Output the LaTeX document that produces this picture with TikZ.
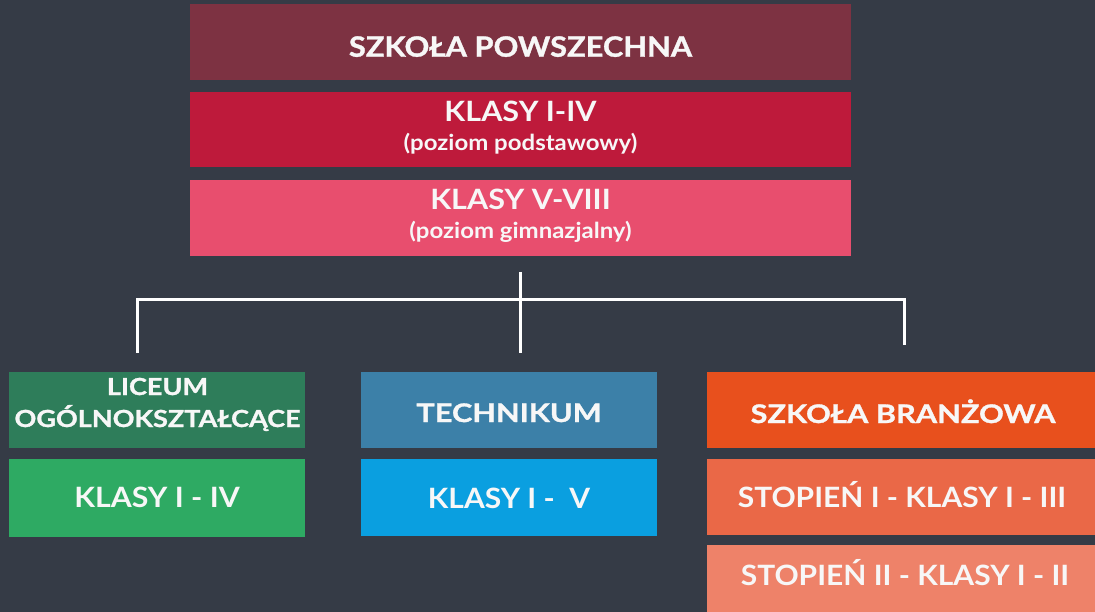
\documentclass[tikz,border=0pt]{standalone}
\usepackage{fontspec}
\setmainfont{Lato}
\newcommand\ftn[2]{\fontsize{#1}{#1}\selectfont\bfseries\addfontfeatures{FakeStretch=#2}}
\newcommand\fth[2]{\fontsize{#1}{#1}\selectfont\bfseries\addfontfeatures{FakeStretch=#2,FakeBold=1.2}}
\definecolor{bg}{HTML}{353B46}
\definecolor{cA}{HTML}{7D3242}
\definecolor{cB}{HTML}{BE1A3B}
\definecolor{cC}{HTML}{E84E6E}
\definecolor{gA}{HTML}{2E7D5A}
\definecolor{gB}{HTML}{2EAA63}
\definecolor{tA}{HTML}{3C80A8}
\definecolor{tB}{HTML}{0A9FE0}
\definecolor{oA}{HTML}{E8501D}
\definecolor{oB}{HTML}{EA6847}
\definecolor{oC}{HTML}{EE8269}
\definecolor{txt}{HTML}{F7F7F7}
\begin{document}
\begin{tikzpicture}[x=1pt,y=-1pt,
  box/.style={draw=none, inner sep=0pt, outer sep=0pt},
  lbl/.style={anchor=base, inner sep=0pt, text=txt},
  conn/.style={draw=white, line width=3pt}]
\fill[bg] (0,0) rectangle (1095,612);
\useasboundingbox (0,0) rectangle (1095,612);
% top column
\node[box, fill=cA, minimum width=661pt, minimum height=76pt] (sp) at (520.5,42) {};
\node[box, fill=cB, minimum width=661pt, minimum height=75pt] (k14) at (520.5,129.5) {};
\node[box, fill=cC, minimum width=661pt, minimum height=76pt] (k58) at (520.5,218) {};
\node[lbl, font=\fth{28}{1.1}] (spt) at (520.5,56.7) {SZKOŁA POWSZECHNA};
\node[lbl, font=\ftn{28}{1.09}] (k14t) at (520.5,122) {KLASY I-IV};
\node[lbl, font=\ftn{22}{1.09}] (k14s) at (520.5,151) {(poziom podstawowy)};
\node[lbl, font=\ftn{28}{1.09}] (k58t) at (520.5,210) {KLASY V-VIII};
\node[lbl, font=\ftn{22}{1.09}] (k58s) at (520.5,239) {(poziom gimnazjalny)};
% bottom left
\node[box, fill=gA, minimum width=296pt, minimum height=76pt] (lo) at (157,409.5) {};
\node[box, fill=gB, minimum width=296pt, minimum height=78pt] (lok) at (157,498) {};
\node[lbl, font=\fth{23.5}{1.15}] (lot1) at (157.5,395) {LICEUM};
\node[lbl, font=\fth{23.5}{1.15}] (lot2) at (157.5,427) {OGÓLNOKSZTAŁCĄCE};
\node[lbl, font=\ftn{28}{1.08}] (lokt) at (157,507) {KLASY I - IV};
% bottom middle
\node[box, fill=tA, minimum width=296pt, minimum height=76pt] (te) at (509,409.5) {};
\node[box, fill=tB, minimum width=296pt, minimum height=77pt] (tek) at (509,497.5) {};
\node[lbl, font=\fth{25.6}{1.2}] (tet) at (509,422) {TECHNIKUM};
\node[lbl, font=\ftn{28}{1.07}] (tekt) at (509,508) {KLASY I -\ \ V};
% bottom right
\node[box, fill=oA, minimum width=389pt, minimum height=76pt] (sb) at (901.5,409.5) {};
\node[box, fill=oB, minimum width=389pt, minimum height=76pt] (s1) at (901.5,497) {};
\node[box, fill=oC, minimum width=389pt, minimum height=67pt, anchor=north] (s2) at (901.5,545) {};
\node[lbl, font=\fth{25.6}{1.2}] (sbt) at (903,423) {SZKOŁA BRANŻOWA};
\node[lbl, font=\ftn{28}{1.07}] (s1t) at (902,507) {STOPIEŃ I - KLASY I - III};
\node[lbl, font=\ftn{28}{1.07}] (s2t) at (905,585) {STOPIEŃ II - KLASY I - II};
% connectors
\coordinate (jt) at (520.5,272);
\coordinate (jl) at (137,300);
\coordinate (jr) at (904,300);
\coordinate (el) at (137,353);
\coordinate (ec) at (520.5,353);
\coordinate (er) at (904,345);
\draw[conn] (jt) -- (ec);
\draw[conn] (el) -- (jl) -- (jr) -- (er);
\end{tikzpicture}
\end{document}
